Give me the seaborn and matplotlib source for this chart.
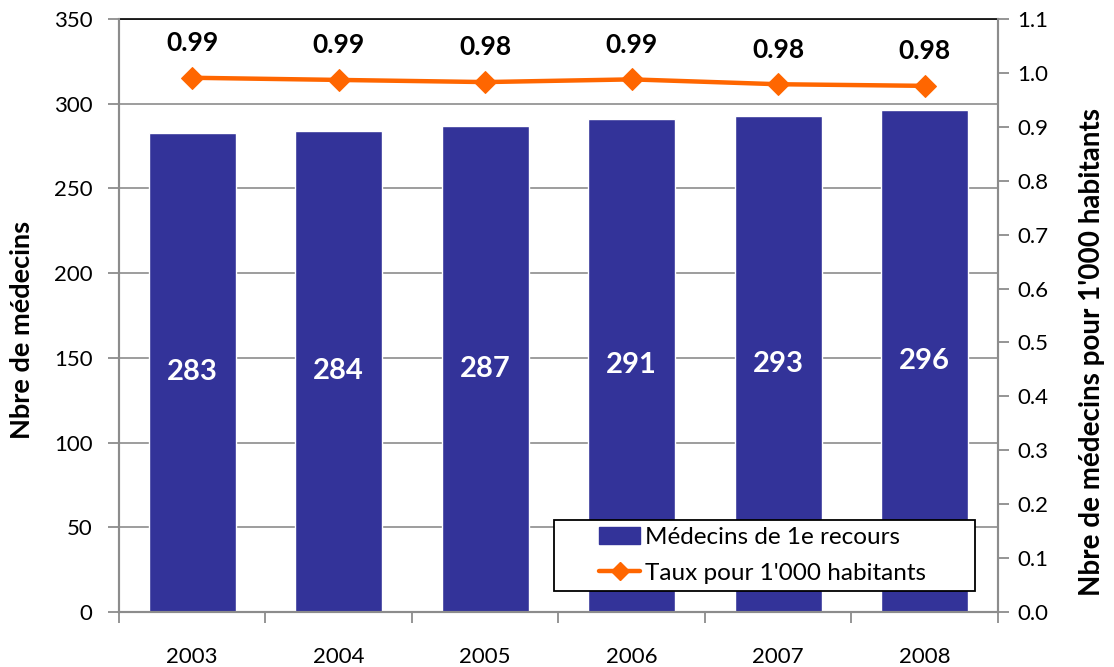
import matplotlib
matplotlib.use("Agg")
import matplotlib.pyplot as plt
from matplotlib.lines import Line2D
from matplotlib.patches import Patch
from matplotlib.legend_handler import HandlerPatch, HandlerLine2D
import numpy as np
import pandas as pd
import seaborn as sns

years = ["2003", "2004", "2005", "2006", "2007", "2008"]
medecins = [283, 284, 287, 291, 293, 296]
taux = [0.991, 0.987, 0.983, 0.988, 0.979, 0.976]

bar_color = "#333399"
line_color = "#FF6600"
grid_color = "#8C8C8C"

sns.set_theme(style="white")
plt.rcParams["font.family"] = ["Lato", "DejaVu Sans"]
plt.rcParams["text.color"] = "black"
plt.rcParams["axes.labelcolor"] = "black"

df = pd.DataFrame({"annee": years, "medecins": medecins, "taux": taux})
df["pos"] = np.arange(len(years))

fig = plt.figure(figsize=(11.14, 6.67), dpi=100)
ax = fig.add_axes([0.1068, 0.0825, 0.789, 0.889])

sns.barplot(data=df, x="annee", y="medecins", color=bar_color, width=0.595,
            saturation=1, ax=ax, zorder=2)
ax.set_ylim(0, 350)
ax.set_xlim(-0.5, len(years) - 0.5)
ax.set_yticks(np.arange(0, 351, 50))
ax.yaxis.grid(True, color=grid_color, linewidth=1.2, zorder=0)
ax.set_axisbelow(True)

for i, v in enumerate(medecins):
    ax.text(i, v / 2, f"{v}", ha="center", va="center", color="white",
            fontsize=21, fontweight="bold", zorder=5)

ax.set_xlabel("")
ax.set_ylabel("Nbre de médecins", fontsize=19.5, fontweight="bold")
ax.yaxis.set_label_coords(-0.097, 0.476)

# x ticks: labels centred on bars, tick marks between categories
ax.set_xticks(np.arange(len(years)))
ax.set_xticklabels(years)
ax.set_xticks(np.arange(-0.5, len(years)), minor=True)
ax.tick_params(axis="x", which="major", length=0, pad=25, labelsize=16,
               labelcolor="black")
ax.tick_params(axis="x", which="minor", length=8, width=1.3, color=grid_color,
               direction="out", bottom=True)
ax.tick_params(axis="y", length=8, width=1.3, color=grid_color, direction="out",
               left=True, labelsize=16, pad=11, labelcolor="black")

for side in ["left", "bottom", "right"]:
    ax.spines[side].set_color(grid_color)
    ax.spines[side].set_linewidth(1.5)
ax.spines["top"].set_color("black")
ax.spines["top"].set_linewidth(1.2)

ax2 = ax.twinx()
sns.lineplot(data=df, x="pos", y="taux", color=line_color, linewidth=3.2,
             marker="D", markersize=11, markeredgecolor=line_color, ax=ax2,
             zorder=4)
ax2.set_ylim(0, 1.1)
ticks_r = np.round(np.arange(0, 1.11, 0.1), 1)
ax2.set_yticks(ticks_r)
ax2.set_yticklabels([f"{t:.1f}" for t in ticks_r])
ax2.set_xlim(-0.5, len(years) - 0.5)
ax2.set_xlabel("")
ax2.set_ylabel("Nbre de médecins pour 1'000 habitants", fontsize=20,
               fontweight="bold")
ax2.yaxis.set_label_coords(1.092, 0.438)
ax2.tick_params(axis="y", length=8, width=1.3, color=grid_color,
                direction="out", right=True, labelsize=16, pad=6,
                labelcolor="black")
for side in ["left", "bottom", "right"]:
    ax2.spines[side].set_color(grid_color)
    ax2.spines[side].set_linewidth(1.5)
ax2.spines["top"].set_visible(False)

for i, v in enumerate(taux):
    ax2.annotate(f"{v:.2f}", (i, v), xytext=(0, 25), textcoords="offset points",
                 ha="center", va="center", fontsize=19, fontweight="bold",
                 color="black")

handles = [
    Patch(facecolor=bar_color, edgecolor=bar_color),
    Line2D([0], [0], color=line_color, linewidth=3.2, marker="D",
           markersize=9, markeredgecolor=line_color),
]
handler_map = {
    Patch: HandlerPatch(xpad=1.55),
    Line2D: HandlerLine2D(xpad=1.55),
}
leg = ax2.legend(handles, ["Médecins de 1e recours", "Taux pour 1'000 habitants"],
                 loc="lower left", bbox_to_anchor=(0.495, 0.0354, 0.479, 0.12),
                 mode="expand", fontsize=17.5,
                 frameon=True, fancybox=False, edgecolor="black", framealpha=1,
                 handlelength=3.25, handletextpad=0.2, borderpad=0.3,
                 labelspacing=0.6, handler_map=handler_map,
                 borderaxespad=0)
leg.get_frame().set_linewidth(1.3)

fig.savefig("out.png", dpi=100, facecolor="white")
